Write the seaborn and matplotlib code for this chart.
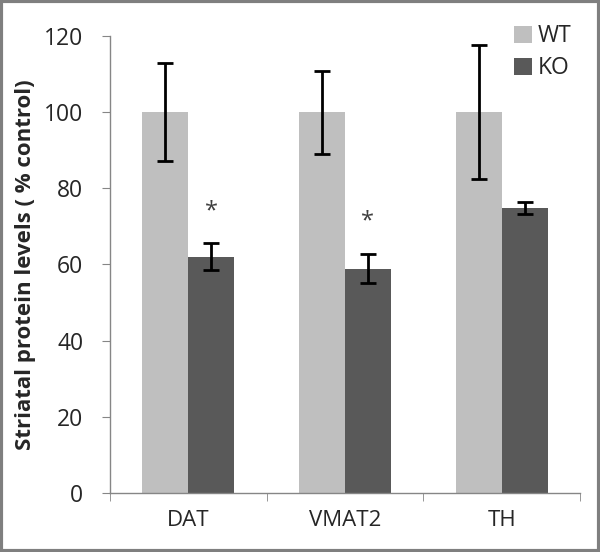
import matplotlib
matplotlib.use("Agg")
import matplotlib.pyplot as plt
import pandas as pd
import seaborn as sns
from matplotlib.patches import Rectangle

# data
proteins = ["DAT", "VMAT2", "TH"]
groups = ["WT", "KO"]
wt_mean = [100, 100, 100]
wt_err = [12.9, 10.9, 17.5]
ko_mean = [62.0, 58.9, 74.9]
ko_err = [3.5, 3.8, 1.6]
significant = [True, True, False]

df = pd.DataFrame({
    "protein": proteins * 2,
    "group": ["WT"] * 3 + ["KO"] * 3,
    "value": wt_mean + ko_mean,
    "err": wt_err + ko_err,
})

sns.set_style("white")
plt.rcParams["font.family"] = ["Open Sans", "DejaVu Sans"]

fig = plt.figure(figsize=(6, 5.52), dpi=100)
ax = fig.add_axes([0.183, 0.107, 0.784, 0.828])

palette = {"WT": "#bfbfbf", "KO": "#595959"}
sns.barplot(data=df, x="protein", y="value", hue="group", hue_order=groups,
            order=proteins, palette=palette, width=0.585, errorbar=None,
            saturation=1, linewidth=0, ax=ax)

# error bars on top of each bar, placed from the drawn patches
for cont, g in zip(ax.containers, groups):
    sub = df[df["group"] == g].set_index("protein").loc[proteins]
    xs = [p.get_x() + p.get_width() / 2 for p in cont.patches]
    ax.errorbar(xs, sub["value"], yerr=sub["err"], fmt="none",
                ecolor="black", elinewidth=2, capsize=6, capthick=2)
    if g == "KO":
        for x, v, e, s in zip(xs, sub["value"], sub["err"], significant):
            if s:
                ax.text(x, v + e + 8.5, "*", ha="center", va="center",
                        fontsize=17, color="#404040")

ax.set_ylim(0, 120)
ax.set_yticks(range(0, 121, 20))
ax.set_xlim(-0.5, 2.5)
ax.set_xlabel("")
ax.set_ylabel("Striatal protein levels ( % control)", fontsize=16,
              fontweight="bold", labelpad=6)
ax.tick_params(axis="y", labelsize=16.5, length=6, color="#868686",
               direction="out", left=True, pad=13)
ax.tick_params(axis="x", labelsize=16, length=0, pad=12)
# x ticks sit at category boundaries
ax.set_xticks([-0.5, 0.5, 1.5, 2.5], minor=True)
ax.tick_params(axis="x", which="minor", length=6, color="#868686",
               direction="out", bottom=True)
for side in ["top", "right"]:
    ax.spines[side].set_visible(False)
for side in ["left", "bottom"]:
    ax.spines[side].set_color("#868686")
    ax.spines[side].set_linewidth(1)

leg = ax.legend(loc="upper right", bbox_to_anchor=(1.0, 1.045), frameon=False,
                fontsize=16.5, handlelength=0.75, handleheight=0.75,
                handletextpad=0.25, labelspacing=0.35, borderaxespad=0)

fig.add_artist(Rectangle((0.002, 0.002), 0.996, 0.996, transform=fig.transFigure,
                         fill=False, edgecolor="#7f7f7f", linewidth=3))

fig.savefig("out.png", dpi=100)
